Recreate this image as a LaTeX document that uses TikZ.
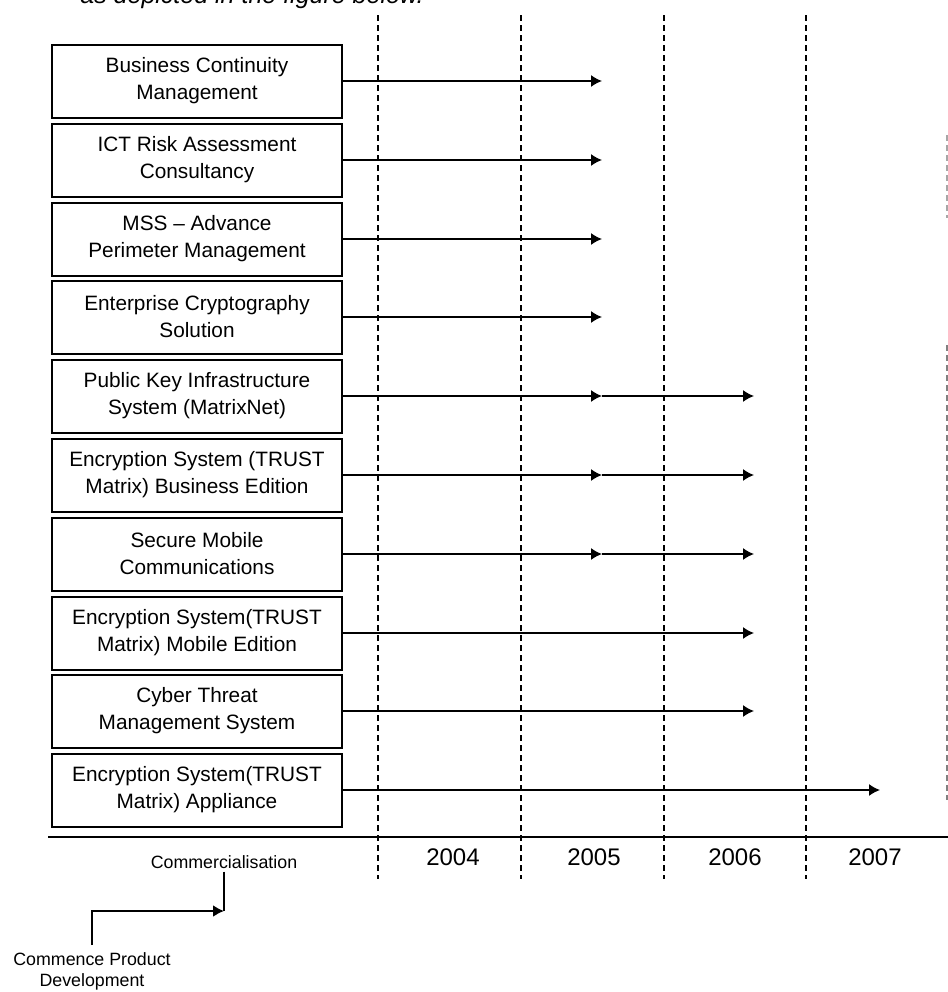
\documentclass[tikz,border=0pt]{standalone}
\usepackage{fontspec}
\setmainfont{Liberation Sans}
\usetikzlibrary{arrows.meta}

\begin{document}
\begin{tikzpicture}[x=0.5pt,y=-0.5pt,
  item/.style={draw,line width=1pt,minimum width=145pt,minimum height=36.5pt,
    align=center,inner sep=2pt,font=\fontsize{10.4}{13.5}\selectfont},
  flow/.style={line width=0.75pt,-{Latex[length=5.5pt,width=6pt]}},
  yearline/.style={line width=0.7pt,dash pattern=on 3pt off 2pt},
  year/.style={font=\fontsize{12}{14}\selectfont},
  note/.style={align=center,font=\fontsize{8.9}{10.5}\selectfont}]
  \useasboundingbox (0,0) rectangle (948,992);
  \begin{scope}
    \clip (0,0) rectangle (948,992);
    \node[anchor=base west,inner sep=0pt,font=\itshape\fontsize{12.5}{15}\selectfont]
      (caption) at (80,3) {as depicted in the figure below.};
  \end{scope}
  % year columns
  \draw[yearline] (378,15) -- (378,879);
  \draw[yearline] (521,15) -- (521,879);
  \draw[yearline] (664,15) -- (664,879);
  \draw[yearline] (806,15) -- (806,879);
  \draw[yearline,black!35] (947,135) -- (947,218);
  \draw[yearline,black!50] (947,345) -- (947,800);
  \coordinate (e05) at (602,0);
  \coordinate (e06) at (754,0);
  \coordinate (e07) at (880,0);
  % products
  \node[item] (bcm)   at (197,81)  {Business Continuity\\Management};
  \node[item] (ictra) at (197,160) {ICT Risk Assessment\\Consultancy};
  \node[item] (mss)   at (197,239) {MSS -- Advance\\Perimeter Management};
  \node[item] (ecs)   at (197,317) {Enterprise Cryptography\\Solution};
  \node[item] (pki)   at (197,396) {Public Key Infrastructure\\System (MatrixNet)};
  \node[item] (esbe)  at (197,475) {Encryption System (TRUST\\Matrix) Business Edition};
  \node[item] (smc)   at (197,554) {Secure Mobile\\Communications};
  \node[item] (esme)  at (197,633) {Encryption System(TRUST\\Matrix) Mobile Edition};
  \node[item] (ctms)  at (197,711) {Cyber Threat\\Management System};
  \node[item] (esa)   at (197,790) {Encryption System(TRUST\\Matrix) Appliance};
  \draw[flow] (bcm.east) -- (bcm.east -| e05);
  \draw[flow] (ictra.east) -- (ictra.east -| e05);
  \draw[flow] (mss.east) -- (mss.east -| e05);
  \draw[flow] (ecs.east) -- (ecs.east -| e05);
  \draw[flow] (pki.east) -- (pki.east -| e05);
  \draw[flow] (pki.east -| e05) -- (pki.east -| e06);
  \draw[flow] (esbe.east) -- (esbe.east -| e05);
  \draw[flow] (esbe.east -| e05) -- (esbe.east -| e06);
  \draw[flow] (smc.east) -- (smc.east -| e05);
  \draw[flow] (smc.east -| e05) -- (smc.east -| e06);
  \draw[flow] (esme.east) -- (esme.east -| e06);
  \draw[flow] (ctms.east) -- (ctms.east -| e06);
  \draw[flow] (esa.east) -- (esa.east -| e07);
  % time axis
  \draw[line width=1.3pt] (48,837) -- (948,837);
  \node[year] (y04) at (453,857) {2004};
  \node[year] (y05) at (594,857) {2005};
  \node[year] (y06) at (735,857) {2006};
  \node[year] (y07) at (875,857) {2007};
  % legend
  \node[note] (comm) at (224,862) {Commercialisation};
  \node[note] (cpd) at (92,971) {Commence Product\\Development};
  \coordinate (bend) at (224,911);
  \draw[line width=1pt] (comm.south) ++(0,-4) -- (bend);
  \draw[flow,line width=1pt] (cpd.north) |- (bend);
\end{tikzpicture}
\end{document}
